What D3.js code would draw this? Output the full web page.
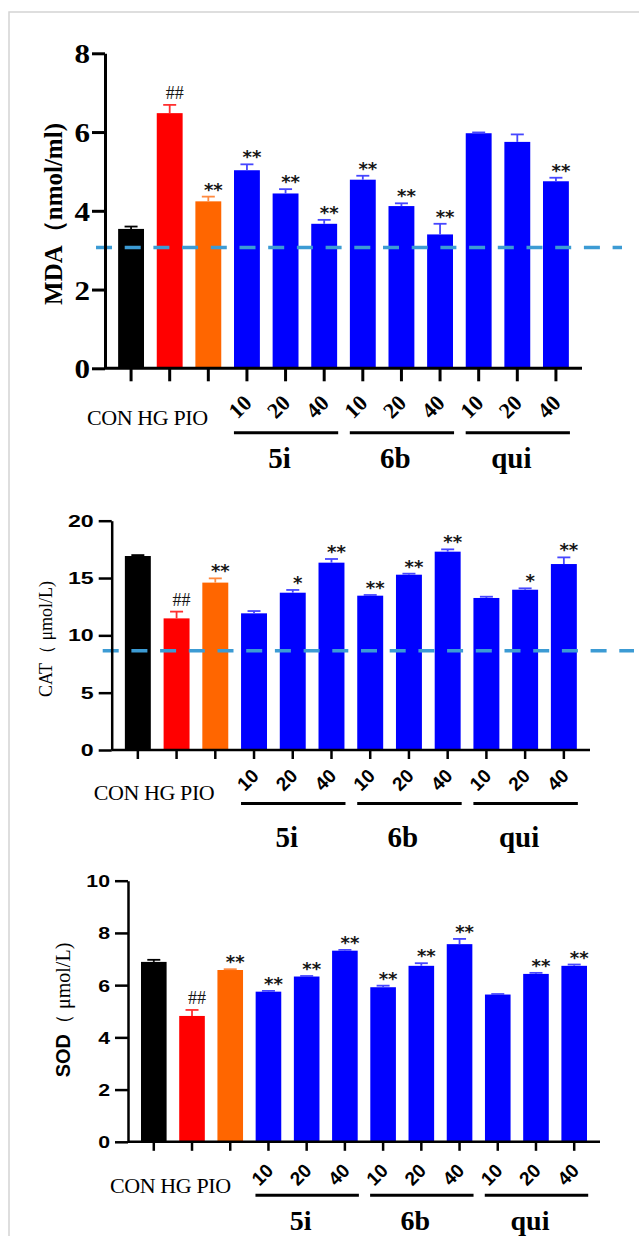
<!DOCTYPE html>
<html>
<head>
<meta charset="utf-8">
<script src="https://cdn.jsdelivr.net/npm/d3@7"></script>
<style>
  body { margin: 0; background: #fff; }
  svg { display: block; }
</style>
</head>
<body>
<svg id="chart"></svg>
<script>
// groups along the x axis
const groups = ['CON', 'HG', 'PIO', '5i-10', '5i-20', '5i-40', '6b-10', '6b-20', '6b-40', 'qui-10', 'qui-20', 'qui-40'];
const doseLabels = ['', '', '', '10', '20', '40', '10', '20', '40', '10', '20', '40'];
const compoundOf = ['', '', '', '5i', '5i', '5i', '6b', '6b', '6b', 'qui', 'qui', 'qui'];
const compounds = ['5i', '6b', 'qui'];
const controlLabel = 'CON HG PIO';

// MDA (nmol/ml)
const mdaMean = [3.54, 6.48, 4.24, 5.03, 4.44, 3.67, 4.79, 4.12, 3.40, 5.97, 5.75, 4.75];
const mdaErr  = [0.06, 0.21, 0.12, 0.15, 0.11, 0.10, 0.10, 0.07, 0.27, 0.02, 0.19, 0.09];
const mdaSig  = ['', '##', '**', '**', '**', '**', '**', '**', '**', '', '', '**'];
const mdaTicks = [0, 2, 4, 6, 8];
const mdaRef = 3.07;

// CAT (μmol/L)
const catMean = [16.92, 11.48, 14.60, 11.92, 13.72, 16.34, 13.46, 15.29, 17.30, 13.26, 13.98, 16.22];
const catErr  = [0.08, 0.59, 0.37, 0.20, 0.24, 0.32, 0.06, 0.09, 0.20, 0.11, 0.12, 0.58];
const catSig  = ['', '##', '**', '', '*', '**', '**', '**', '**', '', '*', '**'];
const catTicks = [0, 5, 10, 15, 20];
const catRef = 8.66;

// SOD (μmol/L)
const sodMean = [6.89, 4.82, 6.58, 5.75, 6.33, 7.32, 5.92, 6.74, 7.57, 5.64, 6.43, 6.74];
const sodErr  = [0.08, 0.23, 0.03, 0.03, 0.02, 0.03, 0.06, 0.10, 0.20, 0.02, 0.04, 0.05];
const sodSig  = ['', '##', '**', '**', '**', '**', '**', '**', '**', '', '**', '**'];
const sodTicks = [0, 2, 4, 6, 8, 10];

const W = 639, H = 1236;
const serif = "'Liberation Serif','Times New Roman',serif";
const sans = "'Liberation Sans',Arial,sans-serif";

const barColor = d3.scaleOrdinal().domain(groups)
  .range(['#000000', '#ff0000', '#ff6600'].concat(d3.range(9).map(() => '#0000ff')));
const errColor = d3.scaleOrdinal().domain(groups)
  .range(['#000000', '#ff3030', '#ff8a40'].concat(d3.range(9).map(() => '#4646ff')));

const svg = d3.select('#chart').attr('width', W).attr('height', H);
svg.append('rect').attr('width', W).attr('height', H).attr('fill', '#fff');

// thin grey frame of the figure
svg.append('rect')
  .attr('x', 9).attr('y', 12).attr('width', W + 20).attr('height', H + 20)
  .attr('fill', 'none').attr('stroke', '#d4d4d4').attr('stroke-width', 1.5);

function drawPanel(p) {
  const x = d3.scaleBand().domain(groups)
    .range([p.left, p.right]).paddingInner(0.33).paddingOuter(0.34);
  const y = d3.scaleLinear().domain([0, d3.max(p.ticks)]).range([p.bottom, p.top]);
  const bw = x.bandwidth();
  const cx = d => x(d) + bw / 2;
  const g = svg.append('g');

  // bars
  g.selectAll('rect.bar').data(groups).join('rect')
    .attr('x', d => x(d))
    .attr('y', (d, i) => y(p.mean[i]))
    .attr('width', bw)
    .attr('height', (d, i) => y(0) - y(p.mean[i]))
    .attr('fill', d => barColor(d));

  // error bars (upper only)
  const eb = g.selectAll('g.err').data(groups).join('g');
  eb.append('line')
    .attr('x1', d => cx(d)).attr('x2', d => cx(d))
    .attr('y1', (d, i) => y(p.mean[i]))
    .attr('y2', (d, i) => y(p.mean[i] + p.err[i]))
    .attr('stroke', d => errColor(d)).attr('stroke-width', 1.8);
  eb.append('line')
    .attr('x1', d => cx(d) - 6.5).attr('x2', d => cx(d) + 6.5)
    .attr('y1', (d, i) => y(p.mean[i] + p.err[i]))
    .attr('y2', (d, i) => y(p.mean[i] + p.err[i]))
    .attr('stroke', d => errColor(d)).attr('stroke-width', 1.8);

  // reference dashed line, drawn over the bars
  if (p.ref != null) {
    g.append('line')
      .attr('x1', p.left - 9).attr('x2', p.dashEnd)
      .attr('y1', y(p.ref)).attr('y2', y(p.ref))
      .attr('stroke', '#3c9bd4').attr('stroke-width', 3.5)
      .attr('stroke-dasharray', '16,12.7');
  }

  // y axis
  const ya = g.append('g')
    .attr('transform', `translate(${p.left},0)`)
    .call(d3.axisLeft(y).tickValues(p.ticks).tickSize(13).tickSizeOuter(0));
  ya.select('.domain').attr('stroke', '#000').attr('stroke-width', p.axisW);
  ya.selectAll('.tick line').attr('stroke', '#000').attr('stroke-width', p.axisW);
  ya.selectAll('.tick text')
    .attr('x', 0).attr('dy', '0.35em')
    .attr('transform', `translate(${-13 - p.yPad},0) scale(${p.yStretch},1)`)
    .attr('fill', '#000')
    .style('font-family', p.yFont).style('font-weight', 'bold')
    .style('font-size', p.yFontSize + 'px');

  // x axis
  const xa = g.append('g')
    .attr('transform', `translate(0,${p.bottom})`)
    .call(d3.axisBottom(x).tickSize(p.xTick).tickSizeOuter(0).tickFormat(''));
  xa.select('.domain').attr('stroke', '#000').attr('stroke-width', p.axisW)
    .attr('d', `M${p.left},0H${p.right}`);
  xa.selectAll('.tick line').attr('stroke', '#000').attr('stroke-width', p.axisW);

  // significance marks
  g.selectAll('text.sig').data(groups).join('text')
    .filter((d, i) => p.sig[i] !== '')
    .attr('x', d => cx(d) + 5)
    .attr('y', d => {
      const i = groups.indexOf(d);
      const top = y(p.mean[i] + p.err[i]);
      return p.sig[i] === '##' ? top - 6 : top - 1;
    })
    .attr('text-anchor', 'middle')
    .attr('fill', '#151515')
    .style('font-family', d => p.sig[groups.indexOf(d)] === '##' ? serif : "'DejaVu Sans',sans-serif")
    .style('font-weight', d => p.sig[groups.indexOf(d)] === '##' ? 'normal' : 'bold')
    .style('font-size', '18px')
    .text(d => p.sig[groups.indexOf(d)]);

  // rotated dose labels
  g.selectAll('text.dose').data(groups).join('text')
    .filter((d, i) => doseLabels[i] !== '')
    .attr('transform', d => `translate(${cx(d) + 6},${p.bottom + p.doseDy}) rotate(-45)`)
    .attr('text-anchor', 'end')
    .attr('fill', '#000')
    .style('font-family', p.doseFont).style('font-weight', 'bold')
    .style('font-size', p.doseSize + 'px')
    .text(d => doseLabels[groups.indexOf(d)]);

  // control group names
  g.append('text')
    .attr('x', p.left - 18).attr('y', p.bottom + p.conDy)
    .attr('fill', '#000')
    .style('font-family', serif).style('font-size', '22px')
    .style('letter-spacing', '-0.4px')
    .text(controlLabel);

  // compound brackets and names
  compounds.forEach(c => {
    const members = groups.filter((d, i) => compoundOf[i] === c);
    const x0 = cx(members[0]) - 13, x1 = cx(members[members.length - 1]) + 14;
    g.append('line')
      .attr('x1', x0).attr('x2', x1)
      .attr('y1', p.bottom + p.lineDy).attr('y2', p.bottom + p.lineDy)
      .attr('stroke', '#000').attr('stroke-width', 3);
    g.append('text')
      .attr('x', cx(members[1]) - 6).attr('y', p.bottom + p.nameDy)
      .attr('text-anchor', 'middle').attr('fill', '#000')
      .style('font-family', serif).style('font-weight', 'bold')
      .style('font-size', p.nameSize + 'px')
      .text(c);
  });

  // y axis title
  const t = g.append('text')
    .attr('transform', `translate(${p.titleX},${p.titleY}) rotate(-90)`)
    .attr('text-anchor', 'middle').attr('fill', '#000');
  p.title.forEach(part => {
    t.append('tspan')
      .style('font-family', part.font)
      .style('font-weight', part.bold ? 'bold' : 'normal')
      .style('font-size', part.size + 'px')
      .text(part.text);
  });
}

drawPanel({
  mean: mdaMean, err: mdaErr, sig: mdaSig, ticks: mdaTicks, ref: mdaRef,
  left: 105, right: 582, top: 53.3, bottom: 368.3, dashEnd: 622,
  axisW: 3, xTick: 13, yPad: 2, yStretch: 1.15, yFont: serif, yFontSize: 27,
  doseFont: serif, doseSize: 22, doseDy: 36,
  conDy: 57, lineDy: 64.5, nameDy: 100, nameSize: 29,
  titleX: 62, titleY: 214,
  title: [{ text: 'MDA（nmol/ml)', font: serif, bold: true, size: 25 }]
});

drawPanel({
  mean: catMean, err: catErr, sig: catSig, ticks: catTicks, ref: catRef,
  left: 111.7, right: 590, top: 520.7, bottom: 750, dashEnd: 634,
  axisW: 2.5, xTick: 9, yPad: 5, yStretch: 1.45, yFont: sans, yFontSize: 16,
  doseFont: sans, doseSize: 19, doseDy: 27,
  conDy: 50, lineDy: 53.5, nameDy: 97, nameSize: 29,
  titleX: 52, titleY: 639,
  title: [{ text: 'CAT（ μmol/L)', font: serif, bold: false, size: 18 }]
});

drawPanel({
  mean: sodMean, err: sodErr, sig: sodSig, ticks: sodTicks, ref: null,
  left: 128, right: 600, top: 880.7, bottom: 1141.8, dashEnd: 0,
  axisW: 2.5, xTick: 9, yPad: 5, yStretch: 1.25, yFont: sans, yFontSize: 17,
  doseFont: sans, doseSize: 19, doseDy: 30,
  conDy: 51, lineDy: 53.5, nameDy: 88, nameSize: 28,
  titleX: 70, titleY: 1010,
  title: [
    { text: 'SOD', font: sans, bold: true, size: 20 },
    { text: '（ μmol/L)', font: serif, bold: false, size: 20 }
  ]
});
</script>
</body>
</html>
